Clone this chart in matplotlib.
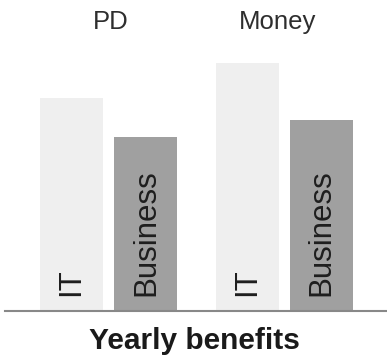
import numpy as np
import matplotlib
matplotlib.use("Agg")
from matplotlib import pyplot as plt

plt.rcParams['font.family'] = ['Liberation Sans', 'DejaVu Sans']

# data (relative heights)
groups = ['PD', 'Money']
series = ['IT', 'Business']
it_vals = [68.5, 79.7]
business_vals = [56.0, 61.4]
xlabel = 'Yearly benefits'

colors = ['#efefef', '#a0a0a0']

fig = plt.figure(figsize=(3.87, 3.58), dpi=100)
ax = fig.add_axes([5 / 387, 47 / 358, 382 / 387, 311 / 358])

x = np.arange(len(groups))
off = 0.2117
w = 0.358

for vals, dx, col, name in [(it_vals, -off, colors[0], series[0]),
                            (business_vals, off, colors[1], series[1])]:
    ax.bar(x + dx, vals, width=w, color=col)
    for xi in x:
        ax.annotate(name, (xi + dx, 0), xytext=(0, 15), textcoords='offset pixels',
                    rotation=90, ha='center', va='bottom', fontsize=22.5, color='#1e1e1e')

# group titles
for xi, g in zip(x, groups):
    ax.text(xi + (0.012 if xi == 0 else -0.04), 0.928, g, transform=ax.get_xaxis_transform(),
            ha='center', va='center', fontsize=18.5, color='#2e2e2e')

ax.set_xlim(-0.591, 1.585)
ax.set_ylim(0, 100)
for s in ['top', 'right', 'left']:
    ax.spines[s].set_visible(False)
ax.spines['bottom'].set_color('#888888')
ax.spines['bottom'].set_linewidth(1.5)
ax.set_xticks([])
ax.set_yticks([])

fig.text(194 / 387, 1 - 341 / 358, xlabel, ha='center', va='center',
         fontsize=21.5, fontweight='bold', color='#1a1a1a')

fig.savefig('out.png', dpi=100, facecolor='white')
